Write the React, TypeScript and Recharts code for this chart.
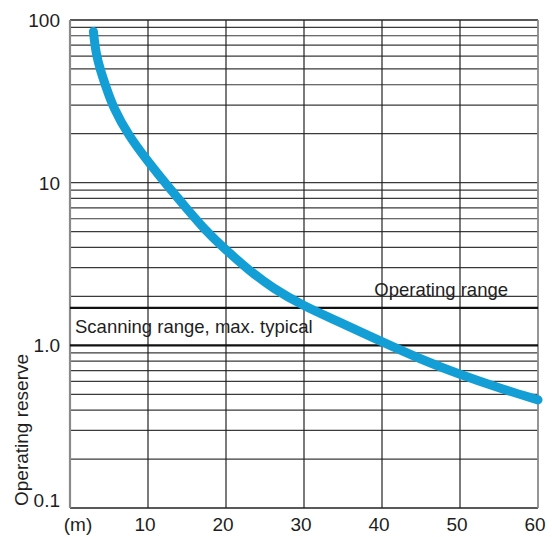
import React from "react";
import { Label, Line, LineChart, ReferenceLine, XAxis, YAxis } from "recharts";

// scanning distance (m) vs operating reserve
const distance = [3, 3.3, 3.9, 4.6, 5.5, 7.5, 10, 12.5, 15, 17.5, 20, 23, 26, 30, 34, 40, 45, 50, 55, 60];
const reserve = [85, 63, 49, 39, 29.2, 19.5, 13.5, 9.55, 6.9, 5.0, 3.85, 2.88, 2.24, 1.74, 1.43, 1.05, 0.82, 0.66, 0.547, 0.462];

const xTicks = [0, 10, 20, 30, 40, 50, 60];
const yTicks = [0.1, 1, 10, 100];
const yTickLabels = ["0.1", "1.0", "10", "100"];
const minorLines = [
    0.2, 0.3, 0.4, 0.5, 0.6, 0.7, 0.8, 0.9,
    2, 3, 4, 5, 6, 7, 8, 9, 10,
    20, 30, 40, 50, 60, 70, 80, 90,
];
const operatingRangeLevel = 1.7;

const FONT = "'Liberation Sans', Arial, sans-serif";
const INK = "#1e1e1e";
const BLUE = "#139fd6";

const data = distance.map((d, i) => ({ d, r: reserve[i] }));

const XTick = (props: any) => {
    const { x, y, payload } = props;
    const first = payload.value === 0;
    return (
        <text x={x + (first ? 8 : -3)} y={y + 23} textAnchor="middle" fontSize={19} fill={INK} fontFamily={FONT}>
            {first ? "(m)" : payload.value}
        </text>
    );
};

const YTick = (props: any) => {
    const { x, y, payload } = props;
    const idx = yTicks.indexOf(payload.value);
    const lift = payload.value === 0.1 ? -8 : 0;
    return (
        <text x={x - 10} y={y + lift + 7} textAnchor="end" fontSize={19} fill={INK} fontFamily={FONT}>
            {yTickLabels[idx]}
        </text>
    );
};

const App: React.FC = () => {
    return (
        <div style={{ position: "absolute", left: 0, top: 0, width: 552, height: 537, background: "#fff" }}>
            <LineChart width={552} height={537} data={data} margin={{ top: 20, right: 14, bottom: 0, left: 0 }}>
                <XAxis
                    dataKey="d"
                    type="number"
                    domain={[0, 60]}
                    ticks={xTicks}
                    height={29}
                    axisLine={false}
                    tickLine={false}
                    tickSize={0}
                    tickMargin={0}
                    tick={<XTick />}
                    interval={0}
                />
                <YAxis
                    type="number"
                    scale="log"
                    domain={[0.1, 100]}
                    ticks={yTicks}
                    width={70}
                    axisLine={false}
                    tickLine={false}
                    tickSize={0}
                    tickMargin={0}
                    tick={<YTick />}
                    interval={0}
                    allowDataOverflow
                >
                    <Label
                        content={(p: any) => {
                            const vb = p.viewBox;
                            const cx = vb.x + 23;
                            const cy = vb.y + vb.height - 78;
                            return (
                                <text x={cx} y={cy} transform={`rotate(-90 ${cx} ${cy})`} textAnchor="middle"
                                    dominantBaseline="middle" fontSize={19} fill={INK} fontFamily={FONT}>
                                    Operating reserve
                                </text>
                            );
                        }}
                    />
                </YAxis>

                {minorLines.map((v) => (
                    <ReferenceLine key={`h${v}`} y={v} stroke="#3a3a3a" strokeWidth={1.2} />
                ))}
                {xTicks.slice(1, -1).map((v) => (
                    <ReferenceLine key={`v${v}`} x={v} stroke="#222" strokeWidth={1.2} />
                ))}
                <ReferenceLine y={100} stroke="#222" strokeWidth={1.5} />
                <ReferenceLine y={0.1} stroke="#222" strokeWidth={1.5} />
                <ReferenceLine x={0} stroke="#8a8a8a" strokeWidth={2.2} />
                <ReferenceLine x={60} stroke="#8a8a8a" strokeWidth={1.8} />
                <ReferenceLine y={1} stroke="#111" strokeWidth={2.4}>
                    <Label
                        content={(p: any) => (
                            <text x={p.viewBox.x + 5} y={p.viewBox.y - 12} fontSize={18.5} fill={INK} fontFamily={FONT}>
                                Scanning range, max. typical
                            </text>
                        )}
                    />
                </ReferenceLine>
                <ReferenceLine y={operatingRangeLevel} stroke="#111" strokeWidth={2.4}>
                    <Label
                        content={(p: any) => (
                            <text x={p.viewBox.x + p.viewBox.width - 30} y={p.viewBox.y - 12} textAnchor="end"
                                fontSize={18.5} fill={INK} fontFamily={FONT}>
                                Operating range
                            </text>
                        )}
                    />
                </ReferenceLine>

                <Line
                    type="basis"
                    dataKey="r"
                    stroke={BLUE}
                    strokeWidth={9}
                    strokeLinecap="round"
                    dot={false}
                    activeDot={false}
                    isAnimationActive={false}
                />
            </LineChart>
        </div>
    );
};

export default App;
